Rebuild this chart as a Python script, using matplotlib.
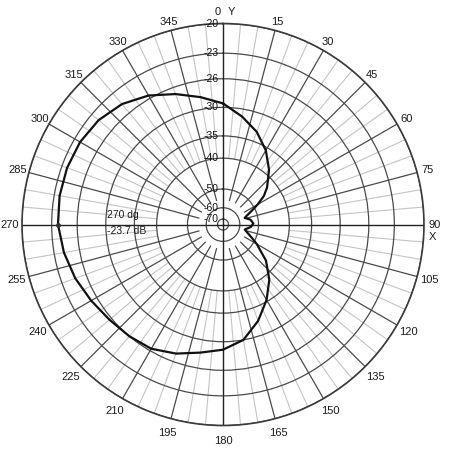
import numpy as np
import matplotlib
matplotlib.use("Agg")
from matplotlib import pyplot as plt

# pattern: azimuth (deg, clockwise from Y) and gain (dB)
angles_deg = [0, 10, 20, 30, 40, 50, 55, 60, 65, 70, 73, 80, 88, 95, 103,
              110, 115, 120, 130, 140, 150, 160, 170, 180, 190, 200, 210,
              220, 230, 240, 250, 260, 270, 280, 290, 300, 310, 320, 330,
              340, 350]
gain_db = [-29.4, -31.2, -33.1, -35.6, -38.7, -42.4, -44.7, -48.2, -52.0,
           -55.0, -56.3, -53.5, -52.3, -53.5, -56.5, -54.0, -51.5, -48.6,
           -42.8, -38.6, -35.3, -32.4, -30.0, -28.8, -28.1, -27.1, -26.3,
           -26.0, -25.7, -25.2, -24.6, -24.1, -23.7, -23.6, -23.6, -23.7,
           -24.0, -24.6, -25.6, -26.9, -28.2]

ring_db = [-70, -60, -50, -40, -35, -30, -26, -23, -20]
angle_ticks = list(range(0, 360, 15))

cursor_angle = 270
cursor_db = -23.7

# radial dB scale of the chart (log-like, fitted to the rings)
A, K, C = 1.0597, 0.05, 0.0597


def db_to_r(db):
  return A * np.exp(K * (np.asarray(db, dtype=float) + 20)) - C


def r_to_db(r):
  r = np.asarray(r, dtype=float)
  return np.log(np.clip(r + C, 1e-9, None) / A) / K - 20


r_center = float(r_to_db(0.0))
r_top = -20

plt.rcParams['font.family'] = ['Liberation Sans', 'DejaVu Sans']

fig = plt.figure(figsize=(4.5, 4.5), dpi=100)
fig.patch.set_facecolor('white')
ax = fig.add_axes([0.0489, 0.0544, 0.8933, 0.8933], projection='polar')
ax.set_theta_zero_location('N')
ax.set_theta_direction(-1)
ax.set_rscale('function', functions=(db_to_r, r_to_db))
ax.set_rlim(r_center, r_top)

# rings
ax.set_rgrids(ring_db, labels=[''] * len(ring_db))
ax.yaxis.grid(True, color='#4a4a4a', lw=0.9)
ax.spines['polar'].set_color('#3a3a3a')
ax.spines['polar'].set_linewidth(1.2)
ax.set_thetagrids(angle_ticks, labels=[''] * len(angle_ticks))
ax.xaxis.grid(False)
ax.tick_params(axis='both', length=0)

# spokes
for a in range(0, 360, 5):
  th = np.radians([a, a])
  if a % 90 == 0:
    ax.plot(th, [r_center, r_top], color='#222222', lw=1.0, zorder=2)
  elif a % 15 == 0:
    ax.plot(th, [-55, r_top], color='#4a4a4a', lw=0.9, zorder=2)
  else:
    ax.plot(th, [-40, r_top], color='#c4c4c4', lw=0.8, zorder=1)

# angle labels round the rim (a bit closer at the top than at the bottom)
txt = dict(textcoords='offset points', ha='center', va='center', fontsize=8,
           color='#1a1a1a', annotation_clip=False)
for a in angle_ticks:
  if a in (0, 90):
    continue
  t = np.radians(a)
  pad = (12 - 3 * np.cos(t)) * 72 / 100
  ax.annotate(str(a), xy=(t, r_top), xytext=(pad * np.sin(t), pad * np.cos(t)),
              **txt)
ax.annotate('0', xy=(0, r_top), xytext=(-4, 8), **txt)
ax.annotate('Y', xy=(0, r_top), xytext=(6, 8), **txt)
ax.annotate('90', xy=(np.pi / 2, r_top), xytext=(8, 0), **txt)
ax.annotate('X', xy=(np.pi / 2, r_top), xytext=(6.3, -9), **txt)

# ring labels along the 0 spoke
for d in ring_db:
  ax.annotate(str(d), xy=(0, d), xytext=(-3, 0), textcoords='offset points',
              ha='right', va='center', fontsize=7.5, color='#111111',
              annotation_clip=False, zorder=4)

# pattern
th = np.radians(angles_deg + [angles_deg[0]])
ax.plot(th, gain_db + [gain_db[0]], color='#111111', lw=1.6, zorder=5)
ax.plot(np.radians(cursor_angle), cursor_db, marker='o', ms=2.5,
        color='#333333', zorder=6)

# cursor readout
ax.text(0.211, 0.524, f"{cursor_angle} dg", transform=ax.transAxes,
        ha='left', va='center', fontsize=7.5, color='#1a1a1a', zorder=6)
ax.text(0.211, 0.484, f"{cursor_db} dB", transform=ax.transAxes,
        ha='left', va='center', fontsize=7.5, color='#1a1a1a', zorder=6)

fig.savefig('out.png', dpi=100, facecolor='white')
